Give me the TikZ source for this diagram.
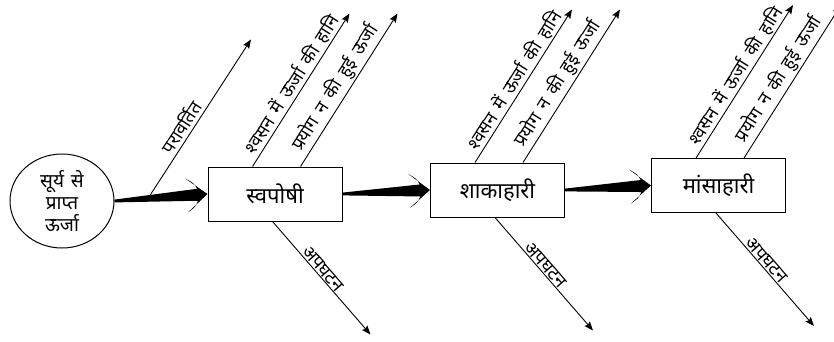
\documentclass[tikz,border=0pt]{standalone}
\usepackage{fontspec}
\setmainfont[Script=Devanagari]{Noto Sans}
\newfontfamily\labfont[Script=Devanagari, WordSpace=1.6]{Noto Sans}
\usetikzlibrary{calc,arrows.meta,shapes.geometric}
\newcommand\wedgearrow[2]{%
  \fill let \p1=(#1), \p2=(#2), \n1={atan2(\y2-\y1,\x2-\x1)} in
    ($(\p1)+({\n1+90}:1.4pt)$)
    -- ($(\p2)+({\n1+180}:10pt)+({\n1+90}:6pt)$)
    .. controls ($(\p2)+({\n1+180}:13pt)+({\n1+90}:12pt)$) .. ($(\p2)+({\n1+180}:21pt)+({\n1+90}:17pt)$)
    -- (\p2)
    -- ($(\p2)+({\n1+180}:21pt)+({\n1-90}:17pt)$)
    .. controls ($(\p2)+({\n1+180}:13pt)+({\n1-90}:12pt)$) .. ($(\p2)+({\n1+180}:10pt)+({\n1-90}:6pt)$)
    -- ($(\p1)+({\n1-90}:1.4pt)$) -- cycle;}
\tikzset{
  stage/.style={draw, line width=1pt, inner sep=0pt, minimum width=134pt, minimum height=54pt, font=\fontsize{22}{24}\selectfont},
  src/.style={draw, ellipse, line width=1pt, inner sep=0pt, minimum width=104pt, minimum height=94pt, align=center, font=\fontsize{19}{22}\selectfont},
  flow/.style={line width=0.9pt, -{Stealth[length=9pt,width=7pt,inset=1.5pt]}},
  lab/.style={sloped, above, inner sep=1.2pt, font=\labfont\fontsize{18}{20}\selectfont}
}
\begin{document}
\begin{tikzpicture}[x=1pt,y=-1pt]
\path[use as bounding box] (0,0) rectangle (834,341);
\node[src] (s) at (62,201) {सूर्य \hspace{2pt}से\\प्राप्त\\ऊर्जा};
\node[stage] (b1) at (275,194) {स्वपोषी};
\node[stage] (b2) at (497.5,190) {शाकाहारी};
\node[stage] (b3) at (718.5,185.5) {मांसाहारी};
\wedgearrow{s.east}{b1.west}
\wedgearrow{b1.east}{b2.west}
\wedgearrow{b2.east}{b3.west}
% reflected
\coordinate (r0) at ($(s.east)!0.36!(b1.west)$);
\coordinate (r1) at ($(r0)+(103,-159)$);
\draw[flow] (r0) -- node[lab, pos=0.41, inner sep=3pt]{परावर्तित} (r1);
% upper and lower lines
\foreach \b in {b1,b2,b3}{
  \coordinate (\b u1) at ($(\b.north west)+(45,0)$);
  \coordinate (\b t1) at ($(\b u1)+(97,-153)$);
  \coordinate (\b u2) at ($(\b.north west)+(93,0)$);
  \coordinate (\b t2) at ($(\b u2)+(97,-153)$);
  \coordinate (\b d) at ($(\b.south west)+(65,0)$);
  \coordinate (\b e) at ($(\b d)+(98,113)$);
  \draw[flow] (\b u1) -- node[lab, pos=0.5]{श्वसन में ऊर्जा की हानि} (\b t1);
  \draw[flow] (\b u2) -- node[lab, pos=0.47]{प्रयोग न की हुई ऊर्जा} (\b t2);
  \draw[flow] (\b d) -- node[lab, pos=0.46]{अपघटन} (\b e);
}
\end{tikzpicture}
\end{document}
